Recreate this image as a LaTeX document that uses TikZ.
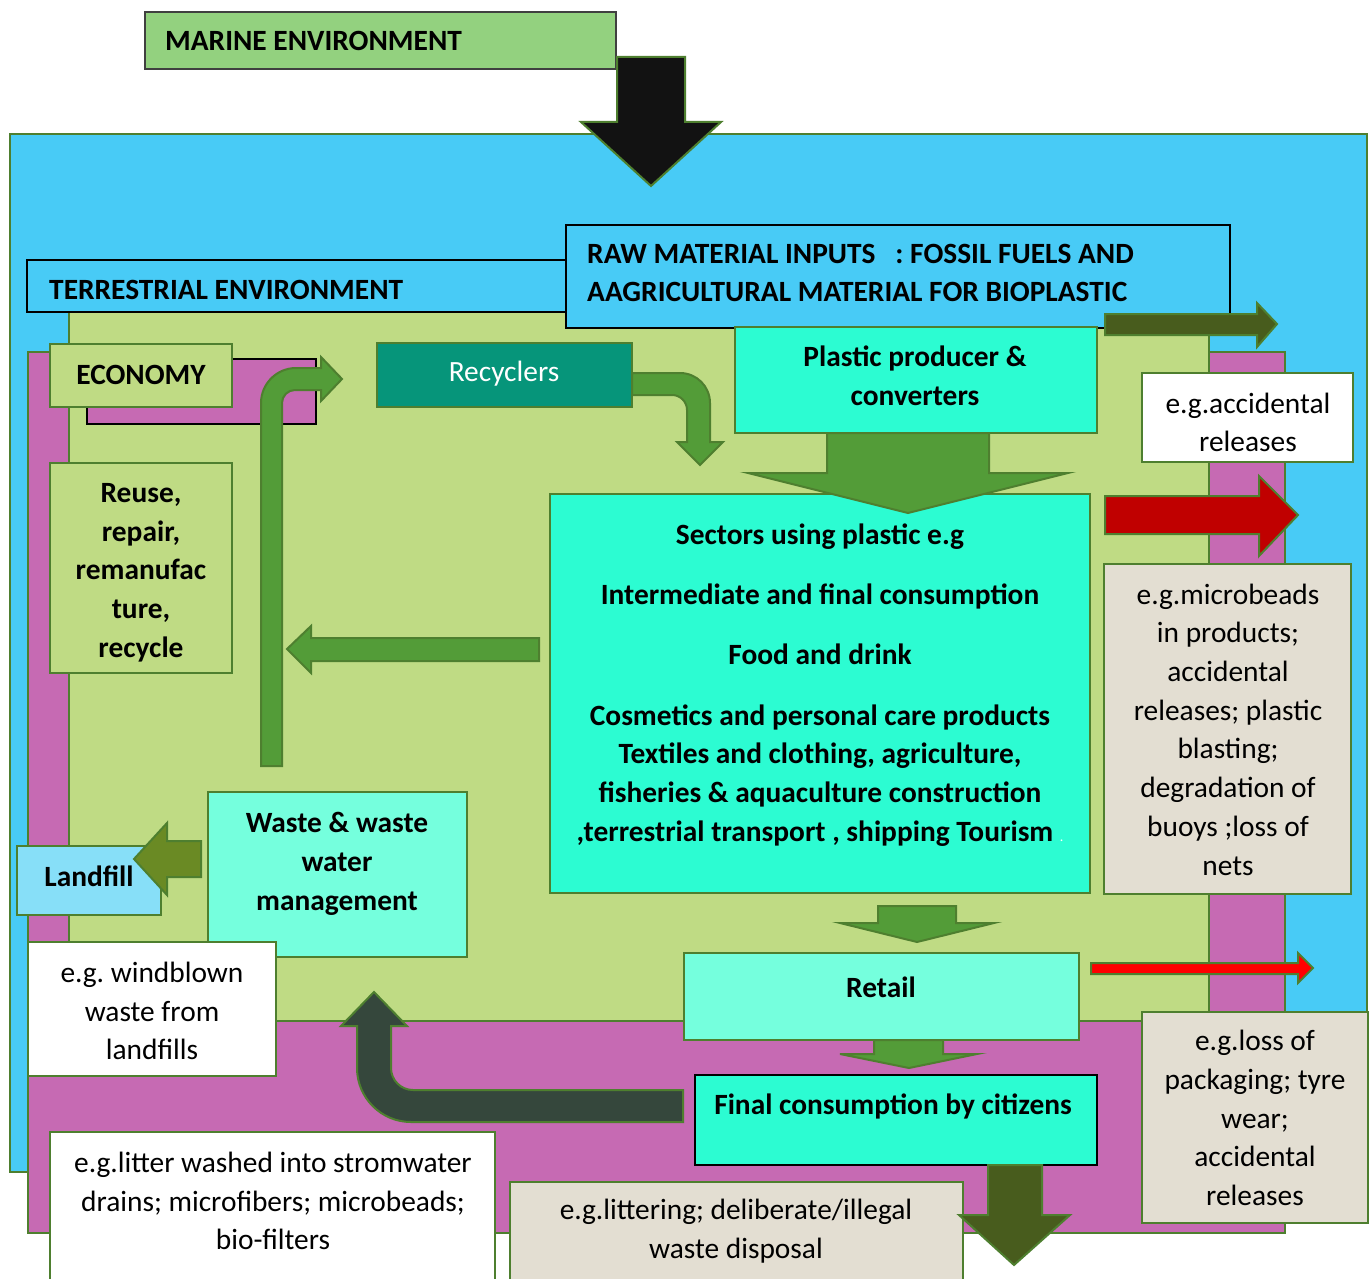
\documentclass[tikz,border=0pt]{standalone}
\usepackage{fontspec}
\setmainfont{Carlito}
\frenchspacing
\definecolor{bgreen}{HTML}{4E7F2F}
\definecolor{marineg}{HTML}{93D17F}
\definecolor{seablue}{HTML}{48CBF6}
\definecolor{magent}{HTML}{C66AB3}
\definecolor{lgreen}{HTML}{BFDB84}
\definecolor{aqua}{HTML}{2CFCD2}
\definecolor{aquab}{HTML}{75FFDD}
\definecolor{tealc}{HTML}{06957A}
\definecolor{lblue}{HTML}{87DFF8}
\definecolor{beige}{HTML}{E3DED2}
\definecolor{agreen}{HTML}{539C38}
\definecolor{olivea}{HTML}{6A8A24}
\definecolor{darkolive}{HTML}{485C1D}
\definecolor{slate}{HTML}{35473C}
\definecolor{darkred}{HTML}{C00000}
\definecolor{brightred}{HTML}{FF0000}
\tikzset{
  box/.style={draw=bgreen, line width=2.5pt, inner sep=0pt, outer sep=0pt, anchor=north west},
  bt/.style={font=\frenchspacing\bfseries\fontsize{29.4}{38.7}\selectfont, align=center, inner sep=0pt},
  nt/.style={font=\frenchspacing\fontsize{29.4}{38.7}\selectfont, align=center, inner sep=0pt},
  barrow/.style={draw=bgreen, line width=2pt, line join=miter},
}
\newcommand\mybox[6]{\node[box,#6,minimum width={#4-#2},minimum height={#5-#3}] (#1) at (#2,#3) {};}
\begin{document}
\begin{tikzpicture}[x=1pt,y=-1pt]
\useasboundingbox (0,0) rectangle (1370,1279);
\fill[white] (0,0) rectangle (1370,1279);
\clip (0,0) rectangle (1370,1279);
% environments
\mybox{marine}{145}{12}{616}{69}{fill=marineg,draw=black!75}
\mybox{sea}{10}{134}{1367}{1172}{fill=seablue}
\mybox{econarea}{28}{352}{1285}{1233}{fill=magent}
\mybox{land}{69}{312}{1209}{1021}{fill=lgreen}
\mybox{terr}{27}{260}{566}{312}{fill=seablue,draw=black}
\mybox{raw}{566}{225}{1230}{328}{fill=seablue,draw=black}
% black arrow from marine
\draw[barrow, fill=black!93] (617,57) -- (685,57) -- (685,122) -- (721,122) -- (651,186) -- (581,122) -- (617,122) -- cycle;
% boxes
\mybox{econback}{87}{359}{316}{424}{fill=magent,draw=black}
\mybox{economy}{50}{344}{232}{407}{fill=lgreen}
\mybox{recyclers}{377}{343}{632}{407}{fill=tealc}
\mybox{plastic}{735}{327}{1097}{433}{fill=aqua}
\mybox{reuse}{50}{463}{232}{673}{fill=lgreen}
\mybox{sectors}{550}{494}{1090}{893}{fill=aqua}
\mybox{accid}{1142}{373}{1353}{462}{fill=white}
\mybox{micro}{1104}{564}{1351}{894}{fill=beige}
\mybox{waste}{208}{792}{467}{957}{fill=aquab}
\mybox{landfill}{17}{846}{161}{915}{fill=lblue}
\mybox{wind}{28}{942}{276}{1076}{fill=white}
\mybox{retail}{684}{953}{1079}{1040}{fill=aquab}
\mybox{final}{695}{1075}{1097}{1165}{fill=aqua,draw=black}
\mybox{loss}{1142}{1012}{1368}{1223}{fill=beige}
\mybox{litter}{50}{1132}{495}{1295}{fill=white}
\mybox{littering}{510}{1182}{963}{1295}{fill=beige}
% block arrows
\draw[barrow, fill=darkolive] (1105,314) -- (1257,314) -- (1257,303) -- (1277,324) -- (1257,347) -- (1257,335) -- (1105,335) -- cycle;
\draw[barrow, fill=darkred] (1105,496) -- (1259,496) -- (1259,476) -- (1298,515) -- (1259,556) -- (1259,534) -- (1105,534) -- cycle;
\draw[barrow, fill=brightred] (1091,963) -- (1298,963) -- (1298,953) -- (1313,968) -- (1298,983) -- (1298,974) -- (1091,974) -- cycle;
\draw[barrow, fill=agreen] (827,433) -- (989,433) -- (989,473) -- (1068,473) -- (908,513) -- (748,473) -- (827,473) -- cycle;
\draw[barrow, fill=agreen] (539,638) -- (311,638) -- (311,626) -- (287,649) -- (311,673) -- (311,661) -- (539,661) -- cycle;
\draw[barrow, fill=olivea] (201,841) -- (167,841) -- (167,823) -- (134,859) -- (167,895) -- (167,877) -- (201,877) -- cycle;
\draw[barrow, fill=agreen] (878,906) -- (956,906) -- (956,923) -- (994,923) -- (917,942) -- (840,923) -- (878,923) -- cycle;
\draw[barrow, fill=agreen] (874,1040) -- (943,1040) -- (943,1054) -- (977,1054) -- (909,1068) -- (840,1054) -- (874,1054) -- cycle;
\draw[barrow, fill=darkolive] (988,1165) -- (1042,1165) -- (1042,1215) -- (1070,1215) -- (1014,1265) -- (959,1215) -- (988,1215) -- cycle;
% bent arrows
\draw[barrow, fill=agreen] (261,766) -- (261,403) .. controls (261,383.7) and (276.7,368) .. (296,368) -- (321,368) -- (321,357) -- (342,379) -- (321,401) -- (321,390) -- (295,390) .. controls (287.8,390) and (282,395.8) .. (282,403) -- (282,766) -- cycle;
\draw[barrow, fill=agreen] (632,373) -- (680,373) .. controls (696.6,373) and (710,386.4) .. (710,403) -- (710,442) -- (723,442) -- (700,465) -- (677,442) -- (687,442) -- (687,410) .. controls (687,401.7) and (680.3,395) .. (672,395) -- (632,395) -- cycle;
\draw[barrow, fill=slate] (683,1090) -- (413,1090) .. controls (400.9,1090) and (391,1080.1) .. (391,1068) -- (391,1026) -- (407,1026) -- (374,992) -- (341,1026) -- (357,1026) -- (357,1068) .. controls (357,1097.8) and (381.2,1122) .. (411,1122) -- (683,1122) -- cycle;
% texts
\node[bt, anchor=west] (marine-t) at (165,41) {MARINE ENVIRONMENT};
\node[bt, anchor=west] (terr-t) at (49,290) {TERRESTRIAL ENVIRONMENT};
\node[bt, anchor=west, align=left] (raw-t) at (587,273) {RAW MATERIAL INPUTS\ \ \ : FOSSIL FUELS AND\\AAGRICULTURAL MATERIAL FOR BIOPLASTIC};
\node[bt] (economy-t) at (141,375) {ECONOMY};
\node[nt, text=white] (recyclers-t) at (504,374) {Recyclers};
\node[bt] (plastic-t) at (915,376) {Plastic producer \&\\converters};
\node[bt] (reuse-t) at (141,572.5) {Reuse,\\repair,\\remanufac\\ture,\\recycle};
\node[bt] (sectors-t) at (820,685) {Sectors using plastic e.g\\[21pt]Intermediate and final consumption\\[21.5pt]Food and drink\\[22pt]Cosmetics and personal care products\\Textiles and clothing, agriculture,\\fisheries \& aquaculture construction\\,terrestrial transport , shipping Tourism {\mdseries\fontsize{14}{14}\selectfont\textcolor{white}{.}}};
\node[nt] (accid-t) at (1248,422.5) {e.g.accidental\\releases};
\node[nt] (micro-t) at (1228,729.5) {e.g.microbeads\\in products;\\accidental\\releases; plastic\\blasting;\\degradation of\\buoys ;loss of\\nets};
\node[bt] (waste-t) at (337,864) {Waste \& waste\\water\\management};
\node[bt] (landfill-t) at (89,876) {Landfill};
\node[nt] (wind-t) at (152,1011) {e.g. windblown\\waste from\\landfills};
\node[bt] (retail-t) at (881,987) {Retail};
\node[bt] (final-t) at (893,1106) {Final consumption by citizens};
\node[nt] (litter-t) at (273,1201) {e.g.litter washed into stromwater\\drains; microfibers; microbeads;\\bio-filters};
\node[nt] (littering-t) at (736,1231) {e.g.littering; deliberate/illegal\\waste disposal};
\node[nt] (loss-t) at (1255,1118) {e.g.loss of\\packaging; tyre\\wear;\\accidental\\releases};
\end{tikzpicture}
\end{document}
